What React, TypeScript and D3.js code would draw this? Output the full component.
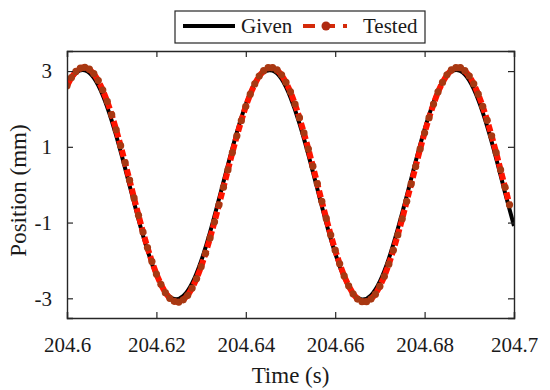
import { useEffect, useRef } from "react"
import * as d3 from "d3"

// sample times in ms after 204.6 s
const givenTimes = [0, 2, 4, 6, 8, 10, 12, 14, 16, 18, 20, 22, 24, 26, 28, 30, 32, 34, 36, 38, 40, 42, 44, 46, 48, 50,
  52, 54, 56, 58, 60, 62, 64, 66, 68, 70, 72, 74, 76, 78, 80, 82, 84, 86, 88, 90, 92, 94, 96, 98, 100]
const givenValues = [2.62, 2.95, 3.02, 2.82, 2.36, 1.69, 0.88, -0.02, -0.92, -1.73, -2.39, -2.83, -3.02, -2.94, -2.6,
  -2.02, -1.26, -0.38, 0.52, 1.38, 2.12, 2.67, 2.97, 3.01, 2.79, 2.3, 1.62, 0.79, -0.11, -1.01, -1.81, -2.45, -2.87,
  -3.03, -2.92, -2.55, -1.95, -1.17, -0.3, 0.61, 1.46, 2.18, 2.71, 2.99, 3.0, 2.75, 2.24, 1.54, 0.7, -0.21, -1.09]

const testedValues = [2.61, 2.83, 2.99, 3.08, 3.1, 3.05, 2.93, 2.75, 2.5, 2.2, 1.85, 1.45, 1.03, 0.58, 0.12, -0.35,
  -0.81, -1.25, -1.66, -2.03, -2.36, -2.63, -2.85, -3.0, -3.08, -3.1, -3.04, -2.92, -2.73, -2.48, -2.17, -1.81, -1.41,
  -0.98, -0.53, -0.07, 0.39, 0.85, 1.29, 1.69, 2.07, 2.39, 2.66, 2.87, 3.01, 3.09, 3.09, 3.03, 2.9, 2.7, 2.45, 2.13,
  1.77, 1.37, 0.94, 0.49, 0.03, -0.44, -0.89, -1.33, -1.73, -2.09, -2.41, -2.67, -2.88, -3.02, -3.09, -3.09, -3.02,
  -2.89, -2.68, -2.42, -2.1, -1.73, -1.33, -0.9, -0.44, 0.02, 0.48, 0.94, 1.37, 1.77, 2.13, 2.45, 2.7, 2.9, 3.03, 3.09,
  3.09, 3.01, 2.87, 2.66, 2.39, 2.07, 1.7, 1.29, 0.85, 0.39, -0.07, -0.53]
const testedTimes = testedValues.map((_, i) => i)

const xTicks = [204.6, 204.62, 204.64, 204.66, 204.68, 204.7]
const yTicks = [-3, -1, 1, 3]

export default function App() {
  const ref = useRef<SVGSVGElement>(null)

  useEffect(() => {
    const svg = d3.select(ref.current)
    svg.selectAll("*").remove()

    const left = 67, right = 514, top = 51, bottom = 318
    const font = "Liberation Serif, Times New Roman, Times, DejaVu Serif, serif"
    const axisColor = "#262626"

    const x = d3.scaleLinear().domain([204.6, 204.7]).range([left, right])
    const y = d3.scaleLinear().domain([-3.52, 3.53]).range([bottom, top])
    const tx = (ms: number) => x(204.6 + ms / 1000)

    const given = givenTimes.map((t, i) => [t, givenValues[i]] as [number, number])
    const tested = testedTimes.map((t, i) => [t, testedValues[i]] as [number, number])

    svg.append("defs").append("clipPath").attr("id", "plotclip")
      .append("rect").attr("x", left).attr("y", top).attr("width", right - left).attr("height", bottom - top)

    const plot = svg.append("g").attr("clip-path", "url(#plotclip)")

    // Given
    plot.append("path")
      .datum(given)
      .attr("fill", "none")
      .attr("stroke", "#000")
      .attr("stroke-width", 4)
      .attr("d", d3.line<[number, number]>().x(d => tx(d[0])).y(d => y(d[1])).curve(d3.curveNatural))

    // Tested
    plot.append("path")
      .datum(tested)
      .attr("fill", "none")
      .attr("stroke", "#ff1400")
      .attr("stroke-width", 6)
      .attr("stroke-dasharray", "7,3")
      .attr("d", d3.line<[number, number]>().x(d => tx(d[0])).y(d => y(d[1])))

    plot.selectAll("circle.tested")
      .data(tested)
      .join("circle")
      .attr("class", "tested")
      .attr("cx", d => tx(d[0]))
      .attr("cy", d => y(d[1]))
      .attr("r", 3.6)
      .attr("fill", "#a83812")

    // axes, ticks inward on all sides
    const fmt = (d: d3.NumberValue) => String(d)
    const bottomAxis = svg.append("g")
      .attr("transform", `translate(0,${bottom})`)
      .call(d3.axisBottom(x).tickValues(xTicks).tickSize(-6).tickPadding(19).tickFormat(fmt))
    const leftAxis = svg.append("g")
      .attr("transform", `translate(${left},0)`)
      .call(d3.axisLeft(y).tickValues(yTicks).tickSize(-6).tickPadding(15).tickFormat(fmt))
    const topAxis = svg.append("g")
      .attr("transform", `translate(0,${top})`)
      .call(d3.axisTop(x).tickValues(xTicks).tickSize(-6).tickFormat(() => ""))
    const rightAxis = svg.append("g")
      .attr("transform", `translate(${right},0)`)
      .call(d3.axisRight(y).tickValues(yTicks).tickSize(-6).tickFormat(() => ""))

    for (const a of [bottomAxis, leftAxis, topAxis, rightAxis]) {
      a.attr("font-family", font).attr("font-size", 21)
      a.select(".domain").attr("stroke", axisColor).attr("stroke-width", 1.4)
      a.selectAll(".tick line").attr("stroke", axisColor).attr("stroke-width", 1.2)
      a.selectAll(".tick text").attr("fill", "#1a1a1a")
    }

    svg.append("text")
      .attr("x", (left + right) / 2)
      .attr("y", 383)
      .attr("text-anchor", "middle")
      .attr("font-family", font)
      .attr("font-size", 23)
      .attr("fill", "#1a1a1a")
      .text("Time (s)")

    svg.append("text")
      .attr("transform", `translate(26,${(top + bottom) / 2 + 6}) rotate(-90)`)
      .attr("text-anchor", "middle")
      .attr("font-family", font)
      .attr("font-size", 23)
      .attr("fill", "#1a1a1a")
      .text("Position (mm)")

    // legend
    const lg = svg.append("g").attr("font-family", font).attr("font-size", 21)
    lg.append("rect")
      .attr("x", 175).attr("y", 11).attr("width", 250).attr("height", 32)
      .attr("fill", "#fff").attr("stroke", axisColor).attr("stroke-width", 1.2)
    lg.append("line")
      .attr("x1", 183).attr("x2", 235).attr("y1", 26).attr("y2", 26)
      .attr("stroke", "#000").attr("stroke-width", 4)
    lg.append("text")
      .attr("x", 241).attr("y", 33)
      .attr("fill", "#1a1a1a")
      .text("Given")
    lg.append("line")
      .attr("x1", 303).attr("x2", 347).attr("y1", 26).attr("y2", 26)
      .attr("stroke", "#d42a0a").attr("stroke-width", 4).attr("stroke-dasharray", "12,8")
    lg.append("circle")
      .attr("cx", 326).attr("cy", 26).attr("r", 4.5).attr("fill", "#b02a10")
    lg.append("text")
      .attr("x", 363).attr("y", 33)
      .attr("fill", "#1a1a1a")
      .text("Tested")
  }, [])

  return (
    <div style={{ position: "absolute", left: 0, top: 0 }}>
      <svg ref={ref} width={550} height={390} style={{ background: "#fff", display: "block" }} />
    </div>
  )
}
